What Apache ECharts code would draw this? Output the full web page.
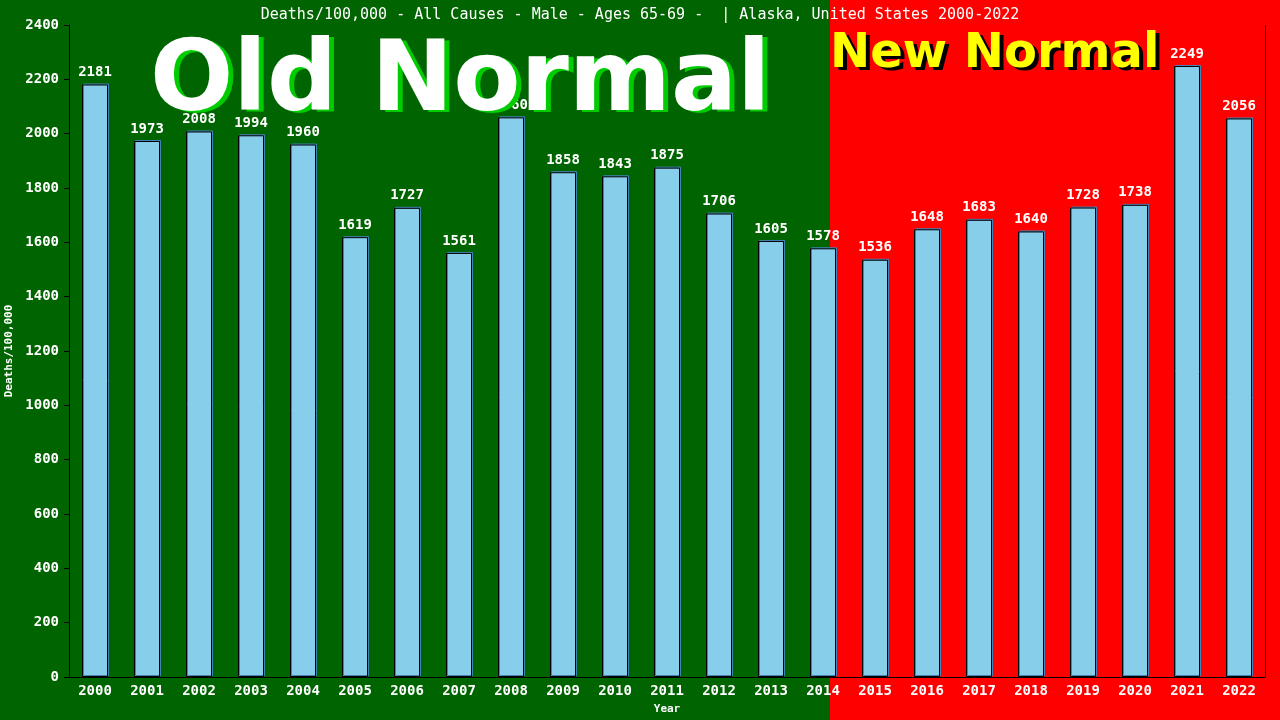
<!DOCTYPE html>
<html><head><meta charset="utf-8">
<script src="https://cdn.jsdelivr.net/npm/echarts@6/dist/echarts.min.js"></script>
<style>html,body{margin:0;padding:0;background:#006400}#c{width:1280px;height:720px}</style>
</head><body><div id="c"></div>
<script>
const years = ['2000','2001','2002','2003','2004','2005','2006','2007','2008','2009','2010','2011','2012','2013','2014','2015','2016','2017','2018','2019','2020','2021','2022'];
const deaths = [2181,1973,2008,1994,1960,1619,1727,1561,2060,1858,1843,1875,1706,1605,1578,1536,1648,1683,1640,1728,1738,2249,2056];
const titleText = 'Deaths/100,000 - All Causes - Male - Ages 65-69 -  | Alaska, United States 2000-2022';
const mono = '"DejaVu Sans Mono", "Liberation Mono", monospace';
const bigFont = '"DejaVu Sans", Verdana, sans-serif';
const chart = echarts.init(document.getElementById('c'));
chart.setOption({
  animation: false,
  backgroundColor: '#006400',
  title: { text: titleText, left: 'center', top: 3,
    textStyle: { color: '#fff', fontFamily: mono, fontSize: 15, fontWeight: 'normal' } },
  grid: { left: 69, right: 15, top: 25, bottom: 43, containLabel: false, outerBoundsMode: 'none' },
  graphic: [
    { type: 'rect', z: -10, silent: true, shape: { x: 0, y: 0, width: 830, height: 720 }, style: { fill: '#006400' } },
    { type: 'rect', z: -10, silent: true, shape: { x: 830, y: 0, width: 450, height: 720 }, style: { fill: '#ff0000' } },
    { type: 'line', z: 5, silent: true, shape: { x1: 1265.5, y1: 25, x2: 1265.5, y2: 677 }, style: { stroke: '#000', lineWidth: 1 } },
    { type: 'text', z: 99, left: 155, top: 38, style: { text: 'Old Normal', fill: '#00cc00', font: 'bold 98px ' + bigFont } },
    { type: 'text', z: 100, left: 150, top: 36, style: { text: 'Old Normal', fill: '#fff', font: 'bold 98px ' + bigFont } },
    { type: 'text', z: 99, left: 834, top: 34, style: { text: 'New Normal', fill: '#000', font: 'bold 48px ' + bigFont } },
    { type: 'text', z: 100, left: 830, top: 31, style: { text: 'New Normal', fill: '#ffff00', font: 'bold 48px ' + bigFont } }
  ],
  xAxis: { type: 'category', data: years, name: 'Year', nameLocation: 'middle', nameGap: 27,
    nameTextStyle: { color: '#fff', fontFamily: mono, fontSize: 11, fontWeight: 'bold' },
    axisLine: { lineStyle: { color: '#000', width: 1 } }, axisTick: { show: false },
    axisLabel: { color: '#fff', fontFamily: mono, fontSize: 14, fontWeight: 'bold', margin: 7, interval: 0 } },
  yAxis: { type: 'value', min: 0, max: 2400, interval: 200, name: 'Deaths/100,000', nameLocation: 'middle', nameGap: 47,
    nameTextStyle: { color: '#fff', fontFamily: mono, fontSize: 11, fontWeight: 'bold' },
    axisLine: { show: true, lineStyle: { color: '#000', width: 1 } },
    axisTick: { show: true, length: 5, lineStyle: { color: '#000' } },
    splitLine: { show: false },
    axisLabel: { color: '#fff', fontFamily: mono, fontSize: 14, fontWeight: 'bold', margin: 10, formatter: v => String(v) } },
  series: [{ type: 'bar', data: deaths, barWidth: 26,
    itemStyle: { color: '#87CEEB', borderColor: '#000', borderWidth: 1,
      shadowColor: '#4682B4', shadowOffsetX: 1, shadowOffsetY: -1, shadowBlur: 0 },
    label: { show: true, position: 'top', distance: 5, color: '#fff', fontFamily: mono, fontSize: 14, fontWeight: 'bold' } }]
});
</script></body></html>
